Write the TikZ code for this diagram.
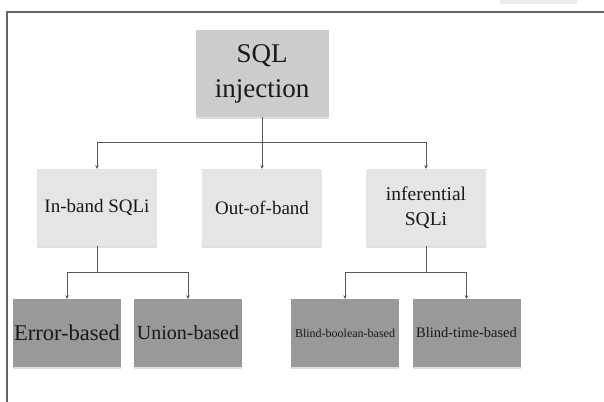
\documentclass[tikz,border=0pt]{standalone}
\usepackage{fontspec}
\setmainfont{Liberation Serif}
\usetikzlibrary{arrows.meta,shadows}
\begin{document}
\begin{tikzpicture}[x=1pt,y=-1pt,
  box/.style={inner sep=0pt, align=center, text=black!90,
    drop shadow={opacity=0.25, shadow xshift=0pt, shadow yshift=-2pt}},
  topbox/.style={box, fill=black!20, minimum width=133pt, minimum height=87pt},
  midbox/.style={box, fill=black!10, minimum width=120pt, minimum height=77pt},
  lowbox/.style={box, fill=black!40, minimum width=108pt, minimum height=68pt},
  conn/.style={draw=black!65, line width=0.8pt},
  arr/.style={conn, -{Stealth[length=3.5pt,width=3.5pt]}}]
\useasboundingbox (0,0) rectangle (604,401);
\fill[white] (0,0) rectangle (604,401);
% frame
\fill[blue!8!black!8] (500,0) rectangle (577,4);
\draw[black!60, line width=1.8pt] (7,405) -- (7,12) -- (610,12);
% nodes
\node[topbox, font=\fontsize{27}{35}\selectfont] (sql) at (262,73.5) {SQL\\ injection};
\node[midbox, font=\fontsize{19}{24}\selectfont] (inband) at (97,207.5) {In-band SQLi};
\node[midbox, font=\fontsize{19}{24}\selectfont] (oob) at (262,207.5) {Out-of-band};
\node[midbox, font=\fontsize{19.5}{25}\selectfont] (inf) at (426,207.5) {inferential\\ SQLi};
\node[lowbox, font=\fontsize{22.5}{25}\selectfont] (err) at (67,333) {Error-based};
\node[lowbox, font=\fontsize{20}{25}\selectfont] (uni) at (188,333) {Union-based};
\node[lowbox, font=\fontsize{12}{13}\selectfont] (bb) at (345,333) {Blind-boolean-based};
\node[lowbox, font=\fontsize{14.5}{16}\selectfont] (bt) at (466.5,333) {Blind-time-based};
% connectors
\coordinate (j1) at (262,142);
\coordinate (j2) at (97,272);
\coordinate (j3) at (426,272);
\draw[conn] (sql.south) -- (j1);
\draw[arr] (j1) -| (inband.north);
\draw[arr] (j1) -- (oob.north);
\draw[arr] (j1) -| (inf.north);
\draw[conn] (inband.south) -- (j2);
\draw[arr] (j2) -| (err.north);
\draw[arr] (j2) -| (uni.north);
\draw[conn] (inf.south) -- (j3);
\draw[arr] (j3) -| (bb.north);
\draw[arr] (j3) -| (bt.north);
\end{tikzpicture}
\end{document}
